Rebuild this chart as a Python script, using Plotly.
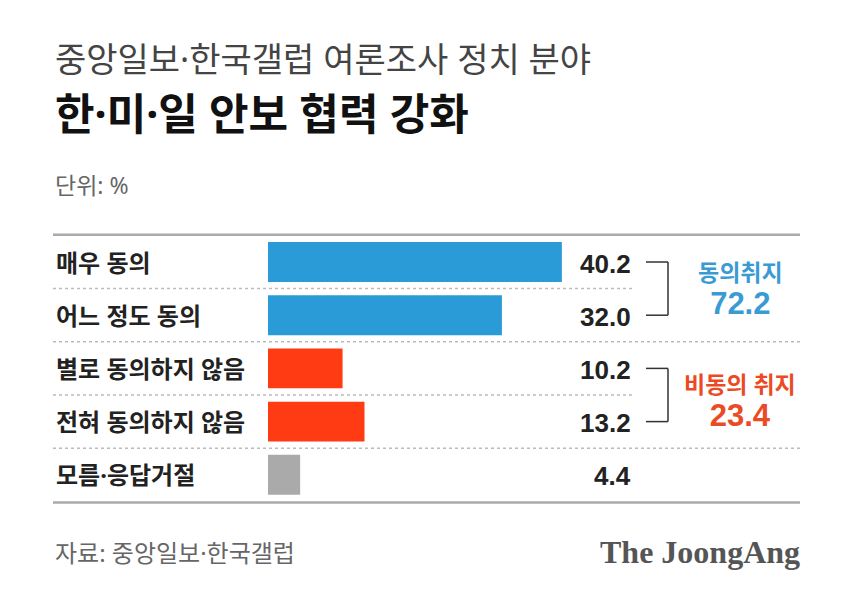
import plotly.graph_objects as go

# ---- data ----
categories = ["매우 동의", "어느 정도 동의", "별로 동의하지 않음", "전혀 동의하지 않음", "모름·응답거절"]
values = [40.2, 32.0, 10.2, 13.2, 4.4]
bar_colors = ["#2b9bd8", "#2b9bd8", "#ff3b14", "#ff3b14", "#aaaaaa"]
group_names = ["동의취지", "비동의 취지"]
group_members = [[0, 1], [2, 3]]
group_colors = ["#3a9bd4", "#ec4a25"]

title_sub = "중앙일보·한국갤럽 여론조사 정치 분야"
title_main = "한·미·일 안보 협력 강화"
unit_text = "단위: %"
source_text = "자료: 중앙일보·한국갤럽"
brand_text = "The JoongAng"

# ---- geometry helpers (pixels -> paper/data) ----
W, H = 850, 607
X0, PXU = 268, 7.31          # bar origin pixel, pixels per percent
ROW0, ROWH = 262, 53.2       # first row centre pixel, row pitch


def px(xp):
    return xp / W


def py(yp):
    return 1 - yp / H


KFONT = "Noto Sans, Noto Sans CJK KR"
NFONT = "Liberation Sans"

fig = go.Figure()
fig.add_trace(go.Bar(
    x=values, y=categories, orientation="h",
    marker=dict(color=bar_colors, line=dict(width=0)),
    width=0.75, hoverinfo="skip",
))

ann = []
shapes = []

# titles
ann.append(dict(x=px(53), y=py(59), xref="paper", yref="paper", text=title_sub,
                showarrow=False, xanchor="left", yanchor="middle",
                font=dict(family=KFONT, size=34, color="#444444")))
ann.append(dict(x=px(53), y=py(113), xref="paper", yref="paper", text=title_main,
                showarrow=False, xanchor="left", yanchor="middle",
                font=dict(family=KFONT, size=43, color="#111111", weight="bold")))
ann.append(dict(x=px(53), y=py(185), xref="paper", yref="paper", text=unit_text,
                showarrow=False, xanchor="left", yanchor="middle",
                font=dict(family=KFONT, size=23, color="#666666")))
ann.append(dict(x=px(53), y=py(552), xref="paper", yref="paper", text=source_text,
                showarrow=False, xanchor="left", yanchor="middle",
                font=dict(family=KFONT, size=24, color="#666666")))
ann.append(dict(x=px(802), y=py(552), xref="paper", yref="paper", text=brand_text,
                showarrow=False, xanchor="right", yanchor="middle",
                font=dict(family="Liberation Serif", size=32, color="#555555", weight="bold")))

# category labels and values
for i, (c, v) in enumerate(zip(categories, values)):
    ann.append(dict(x=px(54), y=c, xref="paper", yref="y", text=c, showarrow=False,
                    xanchor="left", yanchor="middle",
                    font=dict(family=KFONT, size=24, color="#222222", weight="bold")))
    ann.append(dict(x=px(633), y=i + 0.03, xref="paper", yref="y", text=f"{v:.1f}",
                    showarrow=False, xanchor="right", yanchor="middle",
                    font=dict(family=NFONT, size=26, color="#222222", weight="bold")))

# horizontal rules
shapes.append(dict(type="line", xref="paper", yref="y", x0=px(53), x1=px(800),
                   y0=-0.51, y1=-0.51, line=dict(color="#aaaaaa", width=2.5)))
shapes.append(dict(type="line", xref="paper", yref="y", x0=px(53), x1=px(800),
                   y0=4.52, y1=4.52, line=dict(color="#aaaaaa", width=2.5)))
for k in range(len(categories) - 1):
    in_group = any(k in g and k + 1 in g for g in group_members)
    xend = 633 if in_group else 800
    shapes.append(dict(type="line", xref="paper", yref="y", x0=px(53), x1=px(xend),
                       y0=k + 0.5, y1=k + 0.5,
                       line=dict(color="#bbbbbb", width=1.5, dash="dot")))

# brackets and group totals (name + total in one two-line annotation)
group_dy = [0.0, 0.1]
for g, (name, members, col) in enumerate(zip(group_names, group_members, group_colors)):
    a, b = members[0], members[-1]
    for yv in (a, b):
        shapes.append(dict(type="line", xref="paper", yref="y", x0=px(646), x1=px(668),
                           y0=yv, y1=yv, line=dict(color="#333333", width=1.5)))
    shapes.append(dict(type="line", xref="paper", yref="y", x0=px(668), x1=px(668),
                       y0=a, y1=b, line=dict(color="#333333", width=1.5)))
    total = sum(values[m] for m in members)
    mid = (members[0] + members[-1]) / 2
    txt = (f"<span style='font-size:23px;font-weight:bold'>{name}</span><br>"
           f"<span style='font-family:{NFONT};font-size:31px;font-weight:bold'>{total:.1f}</span>")
    ann.append(dict(x=px(740), y=mid + group_dy[g], xref="paper", yref="y", text=txt,
                    showarrow=False, xanchor="center", yanchor="middle", align="center",
                    font=dict(family=KFONT, size=25, color=col)))

fig.update_layout(
    width=W, height=H,
    margin=dict(l=0, r=0, t=0, b=0),
    paper_bgcolor="white", plot_bgcolor="white",
    showlegend=False,
    xaxis=dict(visible=False, domain=[0, 1],
               range=[-X0 / PXU, (W - X0) / PXU], fixedrange=True),
    yaxis=dict(visible=False, domain=[0, 1], type="category",
               categoryorder="array", categoryarray=categories,
               range=[(H - ROW0) / ROWH, -ROW0 / ROWH], fixedrange=True),
    annotations=ann, shapes=shapes,
)

fig.write_html("out.html", post_script="document.body.style.margin='0';",
               config={"displayModeBar": False})
